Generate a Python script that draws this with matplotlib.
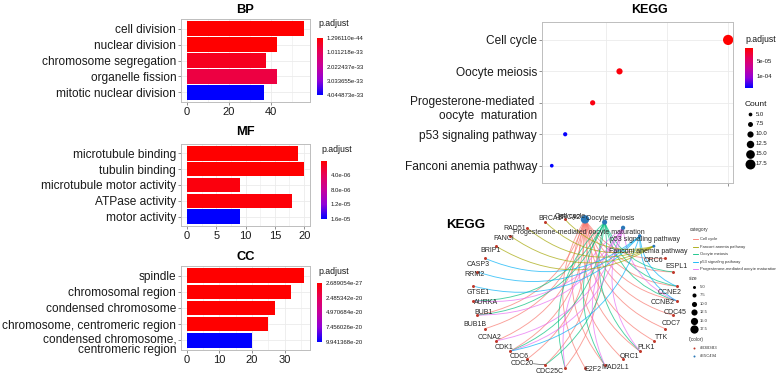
import numpy as np
import matplotlib
matplotlib.use("Agg")
import matplotlib.pyplot as plt
import matplotlib as mpl
from matplotlib.colors import LinearSegmentedColormap, Normalize
from matplotlib.path import Path
from matplotlib.patches import PathPatch
from matplotlib.transforms import ScaledTranslation

plt.rcParams['font.family'] = ['Liberation Sans', 'DejaVu Sans']

# ---------------- data ----------------
bp_terms = ["cell division", "nuclear division", "chromosome segregation",
            "organelle fission", "mitotic nuclear division"]
bp_count = [56, 43, 38, 43, 37]
bp_padj = [1.296110e-44, 2.0e-40, 3.5e-34, 7.5e-34, 4.044873e-33]
bp_xticks = [0, 20, 40]
bp_cbar_ticks = [1.296110e-44, 1.011218e-33, 2.022437e-33, 3.033655e-33, 4.044873e-33]
bp_cbar_labels = ["1.296110e-44", "1.011218e-33", "2.022437e-33", "3.033655e-33", "4.044873e-33"]

mf_terms = ["microtubule binding", "tubulin binding", "microtubule motor activity",
            "ATPase activity", "motor activity"]
mf_count = [19, 20, 9, 18, 9]
mf_padj = [1.8e-8, 1.0e-8, 6.0e-7, 4.0e-7, 1.6e-05]
mf_xticks = [0, 5, 10, 15, 20]
mf_cbar_ticks = [4.0e-06, 8.0e-06, 1.2e-05, 1.6e-05]
mf_cbar_labels = ["4.0e-06", "8.0e-06", "1.2e-05", "1.6e-05"]

cc_terms = ["spindle", "chromosomal region", "condensed chromosome",
            "chromosome, centromeric region", "condensed chromosome,\ncentromeric region"]
cc_count = [36, 32, 27, 25, 20]
cc_padj = [2.689054e-27, 3.0e-26, 8.0e-25, 2.0e-23, 9.941368e-20]
cc_xticks = [0, 10, 20, 30]
cc_cbar_ticks = [2.689054e-27, 2.485342e-20, 4.970684e-20, 7.456026e-20, 9.941368e-20]
cc_cbar_labels = ["2.689054e-27", "2.485342e-20", "4.970684e-20", "7.456026e-20", "9.941368e-20"]

kegg_terms = ["Cell cycle", "Oocyte meiosis", "Progesterone-mediated \noocyte  maturation",
              "p53 signaling pathway", "Fanconi anemia pathway"]
kegg_ratio = [0.400, 0.222, 0.178, 0.133, 0.111]
kegg_count = [18, 10, 8, 6, 5]
kegg_padj = [6.7e-6, 1.1e-5, 1.3e-5, 1.38e-4, 1.4e-4]
kegg_xticks = [0.2, 0.3, 0.4]
kegg_cbar_ticks = [5e-05, 1e-04]
kegg_cbar_labels = ["5e-05", "1e-04"]
size_legend_vals = [5.0, 7.5, 10.0, 12.5, 15.0, 17.5]

net_categories = ["Cell cycle", "Oocyte meiosis", "Progesterone-mediated oocyte maturation",
                  "p53 signaling pathway", "Fanconi anemia pathway"]
net_cat_count = [18, 10, 8, 6, 5]
net_genes = ["ORC6", "ESPL1", "CCNE2", "CCNB2", "CDC45", "CDC7", "TTK", "PLK1", "ORC1",
             "MAD2L1", "E2F2", "CDC25C", "CDC20", "CDC6", "CDK1", "CCNA2", "BUB1B", "BUB1",
             "AURKA", "GTSE1", "RRM2", "CASP3", "BRIP1", "FANCI", "RAD51", "BRCA1", "BRCA2"]
net_members = {
    "Cell cycle": ["ORC6", "ESPL1", "CCNE2", "CCNB2", "CDC45", "CDC7", "TTK", "PLK1", "ORC1",
                   "MAD2L1", "E2F2", "CDC25C", "CDC20", "CDC6", "CDK1", "CCNA2", "BUB1B", "BUB1"],
    "Oocyte meiosis": ["ESPL1", "CCNE2", "CCNB2", "PLK1", "MAD2L1", "CDC25C", "CDC20", "CDK1",
                       "BUB1", "AURKA"],
    "Progesterone-mediated oocyte maturation": ["CCNB2", "PLK1", "MAD2L1", "CDC25C", "CDK1",
                                                "CCNA2", "BUB1", "AURKA"],
    "p53 signaling pathway": ["CCNE2", "CCNB2", "CDK1", "GTSE1", "RRM2", "CASP3"],
    "Fanconi anemia pathway": ["BRCA1", "BRCA2", "RAD51", "FANCI", "BRIP1"],
}
legend_categories = ["Cell cycle", "Fanconi anemia pathway", "Oocyte meiosis",
                     "p53 signaling pathway", "Progesterone-mediated oocyte maturation"]
color_legend_labels = ["#B3B3B3", "#E5C494"]

# ---------------- styles ----------------
W, H = 776, 378
fig = plt.figure(figsize=(W / 100, H / 100), dpi=100)


def rect(x0, y0, x1, y1):
    return [x0 / W, 1 - y1 / H, (x1 - x0) / W, (y1 - y0) / H]


cmap = LinearSegmentedColormap.from_list(
    "rb", [(0, "#FF0000"), (0.25, "#E6005A"), (0.5, "#C6009C"), (0.75, "#9000D8"), (1, "#0000FF")])
hue = {"Cell cycle": "#F8766D", "Fanconi anemia pathway": "#A3A500", "Oocyte meiosis": "#00BF7D",
       "p53 signaling pathway": "#00B0F6", "Progesterone-mediated oocyte maturation": "#E76BF3"}
GRID = "#EBEBEB"
BORDER = "#BDBDBD"


def style_panel(ax):
    for s in ax.spines.values():
        s.set_color(BORDER)
        s.set_linewidth(0.7)
    ax.set_axisbelow(True)
    ax.tick_params(axis='both', length=2, width=0.5, color='#666666', colors='#1a1a1a')


def first_line_at_tick(ax, idx, shift_px, spacing):
    lab = ax.get_yticklabels()[idx]
    lab.set_verticalalignment('top')
    lab.set_linespacing(spacing)
    lab.set_transform(lab.get_transform() + ScaledTranslation(0, shift_px / 100, fig.dpi_scale_trans))


def add_cbar(box, vmin, vmax, ticks, labels, title_xy, title_size=6.3):
    cax = fig.add_axes(rect(*box))
    norm = Normalize(vmin, vmax)
    cb = mpl.colorbar.ColorbarBase(cax, cmap=cmap, norm=norm, orientation='vertical')
    cb.outline.set_visible(False)
    cax.invert_yaxis()
    cb.set_ticks(ticks)
    cb.set_ticklabels(labels)
    cax.tick_params(length=0, labelsize=4.3, pad=2.5, colors='#1a1a1a')
    fig.text(title_xy[0] / W, 1 - title_xy[1] / H, "p.adjust", fontsize=title_size,
             ha='left', va='center', color='#1a1a1a')


def bar_panel(box, title, title_y, terms, counts, padj, xticks, cbox, cticks, clabels, ptitle_xy):
    ax = fig.add_axes(rect(*box))
    vmin, vmax = min(padj), max(padj)
    norm = Normalize(vmin, vmax)
    y = np.arange(len(terms))
    ax.barh(y, counts, height=0.9, color=cmap(norm(np.array(padj))), zorder=3)
    m = max(counts)
    ax.set_xlim(-0.05 * m, 1.05 * m)
    ax.set_ylim(len(terms) - 0.4, -0.6)
    ax.set_yticks(y)
    ax.set_yticklabels(terms, fontsize=8.6)
    ax.set_xticks(xticks)
    ax.set_xticklabels([str(t) for t in xticks], fontsize=8)
    ax.xaxis.set_minor_locator(mpl.ticker.AutoMinorLocator(2))
    ax.grid(True, which='major', color=GRID, lw=0.6)
    ax.grid(True, which='minor', axis='x', color=GRID, lw=0.4)
    ax.tick_params(axis='x', which='minor', length=0)
    style_panel(ax)
    ax.tick_params(axis='y', pad=1.5)
    ax.tick_params(axis='x', pad=1.5)
    cx = (box[0] + box[2]) / 2
    fig.text(cx / W, 1 - title_y / H, title, fontsize=9.3, fontweight='bold',
             ha='center', va='center')
    add_cbar(cbox, vmin, vmax, cticks, clabels, ptitle_xy)
    return ax


bar_panel((181, 19, 310, 102), "BP", 10, bp_terms, bp_count, bp_padj, bp_xticks,
          (317, 38, 323, 95), bp_cbar_ticks, bp_cbar_labels, (318, 24))
bar_panel((181, 144, 310, 226), "MF", 132, mf_terms, mf_count, mf_padj, mf_xticks,
          (321, 161, 327, 219), mf_cbar_ticks, mf_cbar_labels, (321, 150))
ax_cc = bar_panel((181, 266, 310, 350), "CC", 257, cc_terms, cc_count, cc_padj, cc_xticks,
                  (317, 283, 322, 342), cc_cbar_ticks, cc_cbar_labels, (318, 272))
first_line_at_tick(ax_cc, -1, 6.5, 0.85)

# ---------------- KEGG dot plot ----------------
axk = fig.add_axes(rect(542, 22, 733, 183))
kn = Normalize(min(kegg_padj), max(kegg_padj))
kc = np.array(kegg_count, dtype=float)


def dot_d(c):
    return 1.2 + 0.5 * np.asarray(c, dtype=float)


yk = np.arange(len(kegg_terms))
axk.scatter(kegg_ratio, yk, s=(dot_d(kc) * 0.72) ** 2, c=cmap(kn(np.array(kegg_padj))),
            zorder=3, linewidths=0)
axk.set_xlim(0.095, 0.408)
axk.set_ylim(len(kegg_terms) - 0.45, -0.57)
axk.set_yticks(yk)
axk.set_yticklabels(kegg_terms, fontsize=8.6)
axk.set_xticks(kegg_xticks)
axk.set_xticklabels([""] * len(kegg_xticks))
axk.grid(True, color=GRID, lw=0.6)
style_panel(axk)
axk.tick_params(axis='y', pad=1.5)
first_line_at_tick(axk, 2, 6.5, 1.2)
fig.text(649 / W, 1 - 10 / H, "KEGG", fontsize=9, fontweight='bold', ha='center', va='center')
add_cbar((745, 48, 753, 88), min(kegg_padj), max(kegg_padj), kegg_cbar_ticks,
         kegg_cbar_labels, (745, 39))

# overlay axes in pixel coordinates
ov = fig.add_axes([0, 0, 1, 1], zorder=-1)
ov.set_xlim(0, W)
ov.set_ylim(H, 0)
ov.axis('off')

ov.text(745, 104, "Count", fontsize=6, ha='left', va='center', color='#1a1a1a')
for i, v in enumerate(size_legend_vals):
    yy = 114 + i * 9.9
    ov.scatter([750], [yy], s=(dot_d(v) * 0.72) ** 2, c='black', linewidths=0)
    ov.text(756, yy, f"{v:.1f}", fontsize=4.3, ha='left', va='center', color='#1a1a1a')

# ---------------- KEGG network ----------------
ov.text(466, 225, "KEGG", fontsize=9.5, fontweight='bold', ha='center', va='center')
nodes = net_categories + net_genes
n = len(nodes)
cx0, cy0, rx, ry = 575, 293.5, 102, 74.5
ang = np.deg2rad(84.375 - np.arange(n) * 360.0 / n)
pos = {nm: (cx0 + rx * np.cos(a), cy0 - ry * np.sin(a)) for nm, a in zip(nodes, ang)}
centre = np.array([cx0, cy0])

# edges: quadratic curves bowing toward the circle centre
for cat in net_categories:
    for g in net_members[cat]:
        p0 = np.array(pos[cat])
        p1 = np.array(pos[g])
        d = p1 - p0
        mid = (p0 + p1) / 2
        normal = np.array([d[1], -d[0]])
        if np.dot(normal, centre - mid) < 0:
            normal = -normal
        ctrl = mid + 0.3 * normal
        path = Path([p0, ctrl, p1], [Path.MOVETO, Path.CURVE3, Path.CURVE3])
        ov.add_patch(PathPatch(path, fc='none', ec=hue[cat], lw=0.65, alpha=0.7, zorder=2))


def net_d(c):
    return 0.9 + 0.42 * np.asarray(c, dtype=float)


gx = [pos[g][0] for g in net_genes]
gy = [pos[g][1] for g in net_genes]
ov.scatter(gx, gy, s=(3.0 * 0.72) ** 2, c='#C0392B', linewidths=0, zorder=4)
cxs = [pos[c][0] for c in net_categories]
cys = [pos[c][1] for c in net_categories]
ov.scatter(cxs, cys, s=(net_d(net_cat_count) * 0.72) ** 2, c='#2A78B8', linewidths=0, zorder=4)

gene_label_off = {
    'ORC6': (-12, 2), 'ESPL1': (4, -5), 'CCNE2': (-7, 6), 'CCNB2': (-14, 2), 'CDC45': (2, -3),
    'CDC7': (6, -5), 'TTK': (8, -3), 'PLK1': (6, -4), 'ORC1': (6, -3), 'MAD2L1': (11, 3),
    'E2F2': (8, 2), 'CDC25C': (-15, 4), 'CDC20': (-23, -1), 'CDC6': (-8, -3), 'CDK1': (-6, -4),
    'CCNA2': (-7, -3), 'BUB1B': (-10, -4), 'BUB1': (6, -3), 'AURKA': (13, 2), 'GTSE1': (5, 6),
    'RRM2': (-3, 3), 'CASP3': (-7, 6), 'BRIP1': (-6, 4), 'FANCI': (-7, 3), 'RAD51': (-12, 1),
    'BRCA1': (5, -4), 'BRCA2': (4, -2)}
for g in net_genes:
    x, y = pos[g]
    dx, dy = gene_label_off[g]
    if abs(dx) > 18:
        ov.plot([x + dx + 11, x], [y + dy, y], color='#333333', lw=0.4, zorder=3)
    ov.text(x + dx, y + dy, g, fontsize=5.0, ha='center', va='center', color='#262626', zorder=5)

cat_label_off = {"Cell cycle": (-15, -3), "Oocyte meiosis": (6, -4),
                 "Progesterone-mediated oocyte maturation": (-44, 5),
                 "p53 signaling pathway": (5, 4), "Fanconi anemia pathway": (-6, 5)}
for c in net_categories:
    x, y = pos[c]
    dx, dy = cat_label_off[c]
    ov.text(x + dx, y + dy, c, fontsize=5.0, ha='center', va='center', color='#262626', zorder=5)

# network legends
LF = 3.0
ov.text(690, 229, "category", fontsize=3.4, ha='left', va='center', color='#333333')
for i, c in enumerate(legend_categories):
    yy = 239 + i * 7.6
    ov.plot([692.5, 697.5], [yy, yy], color=hue[c], lw=0.6)
    ov.text(699.5, yy, c, fontsize=LF, ha='left', va='center', color='#333333')
ov.text(689, 279, "size", fontsize=3.4, ha='left', va='center', color='#333333')
for i, v in enumerate(size_legend_vals):
    yy = 287 + i * 8.4
    ov.scatter([694], [yy], s=(net_d(v) * 0.72) ** 2, c='black', linewidths=0)
    ov.text(700, yy, f"{v:.1f}", fontsize=LF, ha='left', va='center', color='#333333')
ov.text(689, 340, "I(color)", fontsize=3.4, ha='left', va='center', color='#333333')
for i, (lab, col) in enumerate(zip(color_legend_labels, ['#C0392B', '#2A78B8'])):
    yy = 348 + i * 8
    ov.scatter([694], [yy], s=(2.0 * 0.72) ** 2, c=col, linewidths=0)
    ov.text(699.5, yy, lab, fontsize=LF, ha='left', va='center', color='#333333')

fig.savefig("out.png", dpi=100)
